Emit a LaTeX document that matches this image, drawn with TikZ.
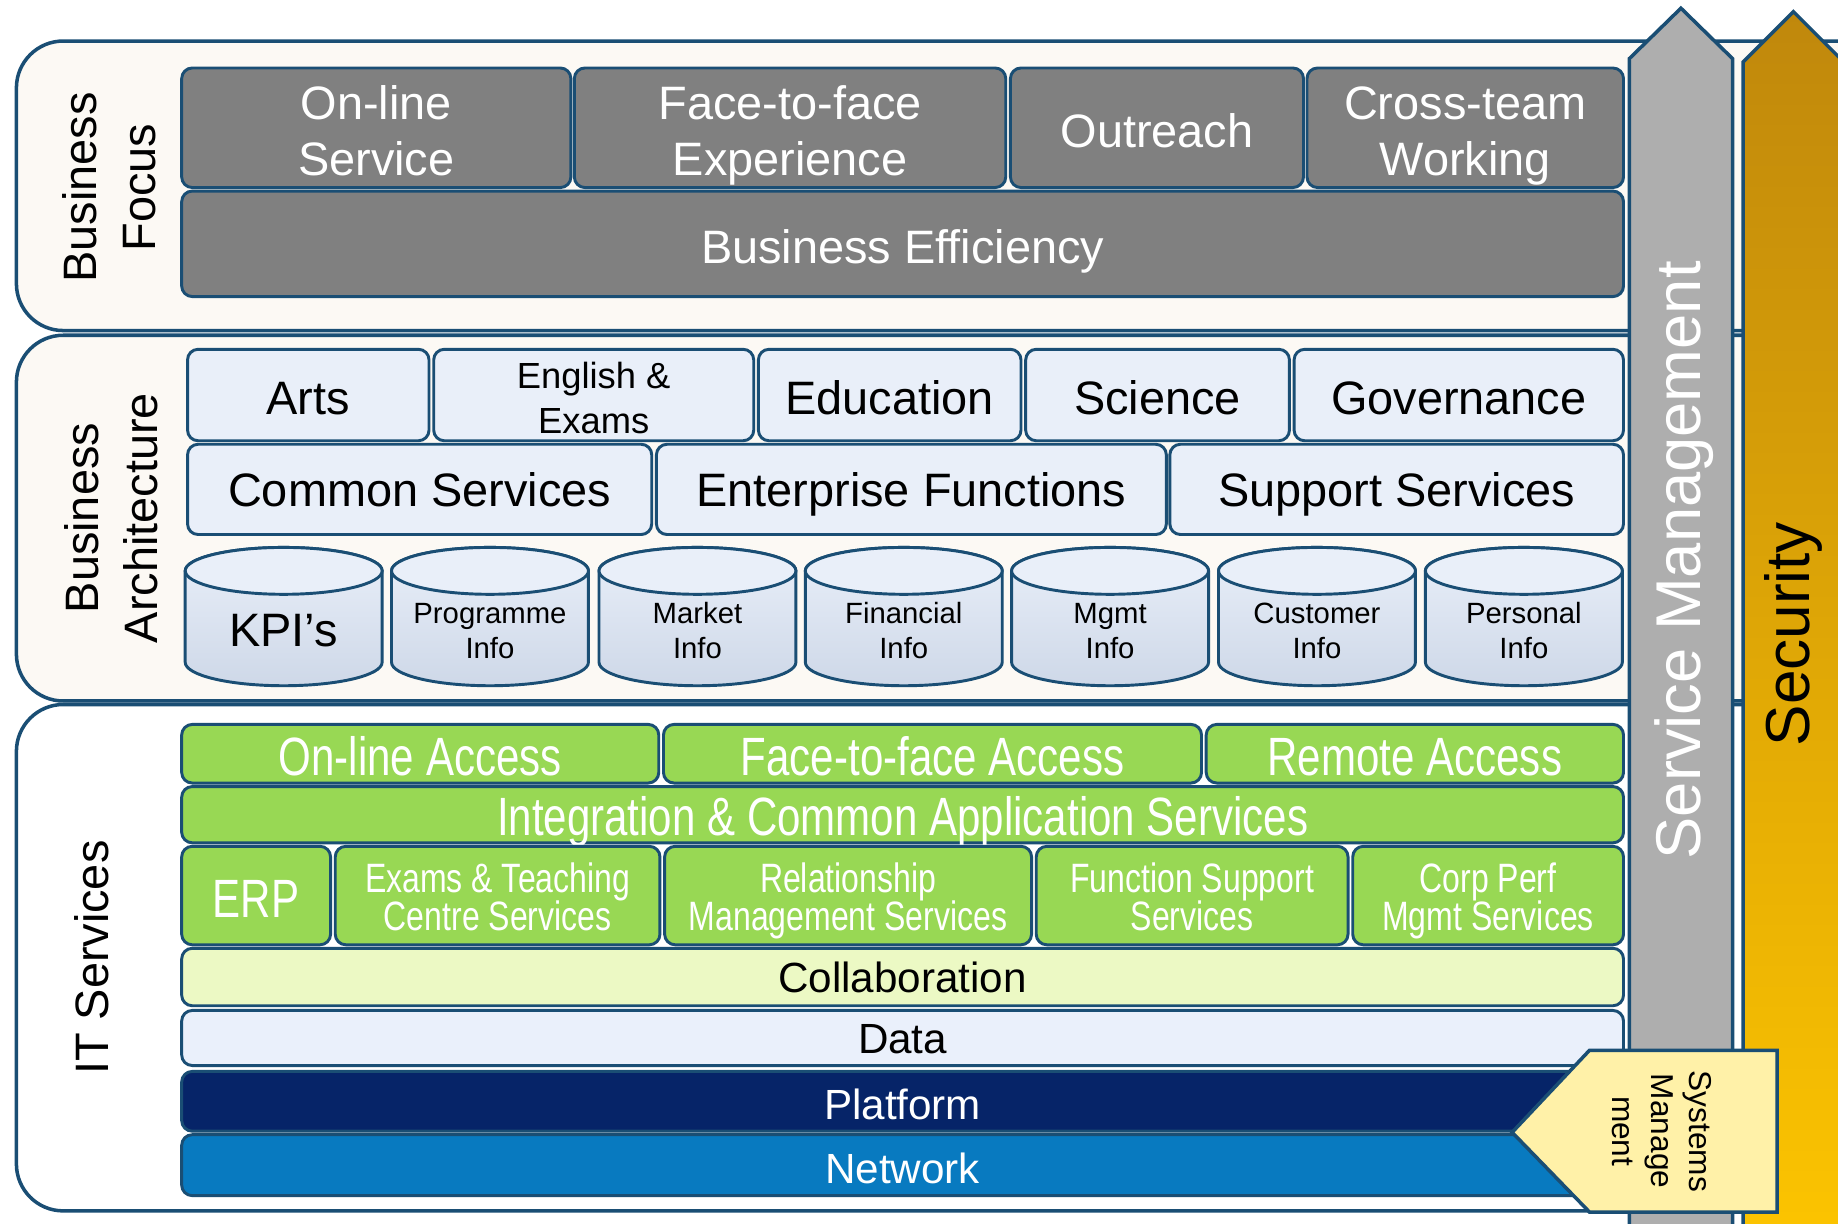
\documentclass[tikz,border=0pt]{standalone}
\usepackage{fontspec}
\setmainfont{Liberation Sans}
\newfontfamily\narrowfont[FakeStretch=0.78]{Liberation Sans}

\definecolor{edgeblue}{RGB}{26,78,116}
\definecolor{panelfill}{RGB}{252,249,244}
\definecolor{focusgray}{RGB}{128,128,128}
\definecolor{archfill}{RGB}{233,239,249}
\definecolor{dbshade}{RGB}{206,216,232}
\definecolor{itgreen}{RGB}{152,216,84}
\definecolor{collabfill}{RGB}{236,249,196}
\definecolor{datafill}{RGB}{234,240,251}
\definecolor{platformblue}{RGB}{6,36,104}
\definecolor{networkblue}{RGB}{8,122,192}
\definecolor{mgmtgray}{RGB}{174,174,174}
\definecolor{goldtop}{RGB}{192,136,12}
\definecolor{goldbot}{RGB}{252,196,0}
\definecolor{sysyellow}{RGB}{255,241,168}

\begin{document}
\begin{tikzpicture}[x=1pt,y=-1pt,
	panel/.style={draw=edgeblue,line width=3pt,fill=panelfill,rounded corners=40pt},
	one/.style={text height=#1,text depth=0pt},
	layer/.style={draw=edgeblue,line width=2.5pt,rounded corners=9pt,inner sep=0pt,align=center},
	focus/.style={layer,fill=focusgray,text=white,font=\fontsize{40}{48}\selectfont,one=33.6pt},
	arch/.style={layer,fill=archfill,font=\fontsize{40}{48}\selectfont,one=33.6pt},
	access/.style={layer,fill=itgreen,text=white,font=\narrowfont\fontsize{46}{46}\selectfont,one=37.9pt},
	app/.style={layer,fill=itgreen,text=white,font=\narrowfont\fontsize{35}{33}\selectfont,one=60pt},
	tier/.style={layer,font=\fontsize{36}{40}\selectfont,one=30.8pt},
	sidelabel/.style={rotate=90,align=center,font=\fontsize{40}{50}\selectfont},
	cyl/.style={draw=edgeblue,line width=2.5pt},
	dbtext/.style={align=center,font=\fontsize{25}{30}\selectfont}]
	\clip (0,0) rectangle (1568,1044);
	\fill[white] (0,0) rectangle (1568,1044);

	% panels
	\draw[panel] (14,35) rectangle (1620,282);
	\draw[panel] (14,286) rectangle (1620,598);
	\draw[panel,fill=white] (14,601) rectangle (1620,1033);
	\node[sidelabel] (focuslabel) at (93,160) {Business\\Focus};
	\node[sidelabel] (archlabel) at (95,442) {Business\\Architecture};
	\node[sidelabel] (itlabel) at (78,817) {IT Services};

	% business focus
	\node[focus,one=81.6pt,minimum width=332,minimum height=102] (online) at (321,109) {On-line\\Service};
	\node[focus,one=81.6pt,minimum width=368,minimum height=102] (facetoface) at (674,109) {Face-to-face\\Experience};
	\node[focus,minimum width=250,minimum height=102] (outreach) at (987,109) {Outreach};
	\node[focus,one=81.6pt,minimum width=270,minimum height=102] (crossteam) at (1250,109) {Cross-team\\Working};
	\node[focus,minimum width=1230,minimum height=90] (efficiency) at (770,208) {Business Efficiency};

	% business architecture
	\node[arch,minimum width=206,minimum height=78] (arts) at (263,337) {Arts};
	\node[arch,minimum width=273,minimum height=78,font=\fontsize{31}{38}\selectfont,one=65.2pt] (english) at (506.5,337) {English \&\\Exams};
	\node[arch,minimum width=224,minimum height=78] (education) at (759,337) {Education};
	\node[arch,minimum width=225,minimum height=78] (science) at (987.5,337) {Science};
	\node[arch,minimum width=281,minimum height=78] (governance) at (1244.5,337) {Governance};
	\node[arch,one=29.6pt,minimum width=396,minimum height=77] (common) at (358,417.5) {Common Services};
	\node[arch,one=29.6pt,minimum width=435,minimum height=77] (enterprise) at (777.5,417.5) {Enterprise Functions};
	\node[arch,one=29.6pt,minimum width=387,minimum height=77] (support) at (1191.5,417.5) {Support Services};

	\foreach \cx/\nm/\txt in {242/kpi/{\fontsize{40}{48}\selectfont KPI’s},418/programme/{Programme\\Info},
		595/market/{Market\\Info},771/financial/{Financial\\Info},947/mgmt/{Mgmt\\Info},
		1123.5/customer/{Customer\\Info},1300/personal/{Personal\\Info}}{
		\draw[cyl,top color=archfill,bottom color=dbshade] (\cx-84,487) -- (\cx-84,565)
			arc[start angle=180,end angle=0,x radius=84,y radius=20] -- (\cx+84,487)
			arc[start angle=0,end angle=-180,x radius=84,y radius=20] -- cycle;
		\draw[cyl,fill=archfill] (\cx,487) ellipse[x radius=84,y radius=20];
		\node[dbtext] (\nm) at (\cx,538) {\txt};
	}

	% IT services
	\node[access,minimum width=407,minimum height=50] (onlineaccess) at (358.5,643) {On-line Access};
	\node[access,minimum width=459,minimum height=50] (faceaccess) at (795.5,643) {Face-to-face Access};
	\node[access,minimum width=356,minimum height=50] (remoteaccess) at (1207,643) {Remote Access};
	\node[access,one=34.9pt,minimum width=1230,minimum height=48] (integration) at (770,695) {Integration \& Common Application Services};
	\node[app,minimum width=127,minimum height=84,font=\narrowfont\fontsize{46}{46}\selectfont,one=37.9pt] (erp) at (218.5,764) {ERP};
	\node[app,minimum width=277,minimum height=84] (exams) at (424.5,764) {Exams \& Teaching\\Centre Services};
	\node[app,minimum width=313,minimum height=84] (relationship) at (723.5,764) {Relationship\\Management Services};
	\node[app,minimum width=266,minimum height=84] (function) at (1017,764) {Function Support\\Services};
	\node[app,minimum width=231,minimum height=84] (corpperf) at (1269.5,764) {Corp Perf\\Mgmt Services};
	\node[tier,one=27pt,fill=collabfill,minimum width=1230,minimum height=49] (collab) at (770,833.5) {Collaboration};
	\node[tier,one=27pt,fill=datafill,minimum width=1230,minimum height=47] (data) at (770,885.5) {Data};
	\node[tier,fill=platformblue,text=white,minimum width=1230,minimum height=51] (platform) at (770,939.5) {Platform};
	\node[tier,fill=networkblue,text=white,minimum width=1230,minimum height=52] (network) at (770,994) {Network};

	% vertical arrows
	\draw[draw=edgeblue,line width=3pt,fill=mgmtgray] (1390,1060) -- (1390,50) -- (1434,7) -- (1478,50) -- (1478,1060) -- cycle;
	\node[rotate=90,text=white,font=\fontsize{54}{60}\selectfont] (servicemgmt) at (1437,478) {Service Management};
	\draw[draw=edgeblue,line width=3pt,top color=goldtop,bottom color=goldbot] (1487,1060) -- (1487,53) -- (1530,10) -- (1573,53) -- (1573,1060) -- cycle;
	\node[rotate=90,font=\fontsize{53}{60}\selectfont] (security) at (1530,541) {Security};
	\draw[draw=edgeblue,line width=3pt,fill=sysyellow] (1290,966) -- (1356,896) -- (1516,896) -- (1516,1034) -- (1356,1034) -- cycle;
	\node[rotate=-90,align=center,font=\fontsize{27}{33}\selectfont] (systemsmgmt) at (1418,965) {Systems\\Manage\\ment};
\end{tikzpicture}
\end{document}
